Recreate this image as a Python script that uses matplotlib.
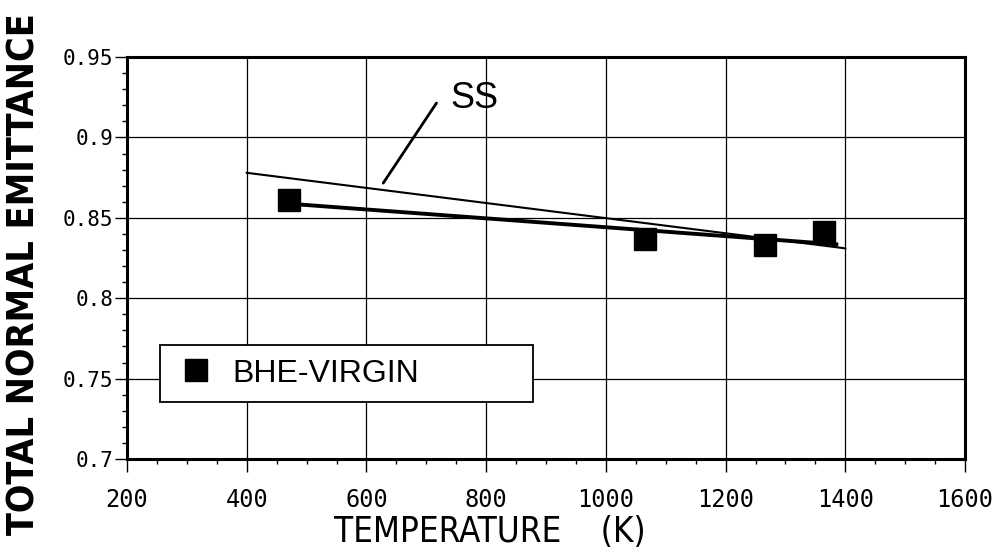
import numpy as np
import matplotlib
matplotlib.use("Agg")
import matplotlib.pyplot as plt
from matplotlib.lines import Line2D
from matplotlib.patches import Rectangle
from matplotlib.ticker import MultipleLocator, FormatStrFormatter

# ---------------------------------------------
# data
# ---------------------------------------------

temp_bhe = [470, 1065, 1265, 1365]
emit_bhe = [0.861, 0.837, 0.833, 0.841]

temp_ss = [400, 1400]
emit_ss = [0.878, 0.831]

fit_end = 1385

# ---------------------------------------------
# figure
# ---------------------------------------------

fig = plt.figure(figsize=(10.01, 5.58), dpi=100)
ax = fig.add_axes([0.1269, 0.1774, 0.8372, 0.7204])

ax.set_xlim(200, 1600)
ax.set_ylim(0.7, 0.95)

ax.xaxis.set_major_locator(MultipleLocator(200))
ax.xaxis.set_minor_locator(MultipleLocator(50))
ax.yaxis.set_major_locator(MultipleLocator(0.05))
ax.yaxis.set_minor_locator(MultipleLocator(0.01))
ax.yaxis.set_major_formatter(FormatStrFormatter("%g"))

ax.grid(True, which="major", color="black", linewidth=0.9, zorder=1)

for s in ax.spines.values():
    s.set_linewidth(2.2)
    s.set_zorder(5)

ax.tick_params(which="major", direction="out", length=9, width=1.0)
ax.tick_params(which="minor", direction="out", length=3.6, width=1.0)
ax.tick_params(axis="x", which="major", pad=12)
ax.tick_params(axis="y", which="major", pad=1)

for lab in ax.get_xticklabels():
    lab.set_fontfamily("DejaVu Sans Mono")
    lab.set_fontsize(17)
for lab in ax.get_yticklabels():
    lab.set_fontfamily("DejaVu Sans Mono")
    lab.set_fontsize(15)

# SS reference line
ax.plot(temp_ss, emit_ss, color="black", linewidth=1.5, zorder=3)

# BHE-VIRGIN points and linear fit
coef = np.polyfit(temp_bhe, emit_bhe, 1)
fit_x = np.array([temp_bhe[0], fit_end])
ax.plot(fit_x, np.polyval(coef, fit_x), color="black", linewidth=2.8, zorder=3)
ax.plot(temp_bhe, emit_bhe, linestyle="none", marker="s", markersize=15.5,
        color="black", zorder=4)

# SS label with leader
ax.annotate("", xy=(628, 0.8716), xytext=(717, 0.9214),
            arrowprops=dict(arrowstyle="-", color="black", linewidth=2.0,
                            shrinkA=0, shrinkB=0), zorder=4)
ax.text(781, 0.9245, "SS", fontfamily="Liberation Sans", fontsize=26,
        ha="center", va="center", zorder=4)

# legend box
ax.add_patch(Rectangle((0.0394, 0.1418), 0.4451, 0.1418, transform=ax.transAxes,
                       facecolor="white", edgecolor="black", linewidth=1.3, zorder=4))
handle = Line2D([], [], linestyle="none", marker="s", markersize=16, color="black")
leg = ax.legend([handle], ["BHE-VIRGIN"], loc="center left",
                bbox_to_anchor=(0.0671, 0.2127), frameon=False,
                borderpad=0, borderaxespad=0, handlelength=0.8, handletextpad=0.74,
                prop={"family": "Liberation Sans", "size": 23})
leg.set_zorder(6)

# axis titles
fig.text(0.4895, 0.0287, "TEMPERATURE    (K)", fontfamily="DejaVu Sans",
         fontstretch="condensed", fontsize=25, ha="center", va="baseline")
fig.text(0.024, 0.509, "TOTAL NORMAL EMITTANCE", fontfamily="DejaVu Sans",
         fontstretch="condensed", fontweight="bold", fontsize=27,
         rotation=90, ha="center", va="center")

fig.savefig("out.png", dpi=100)
